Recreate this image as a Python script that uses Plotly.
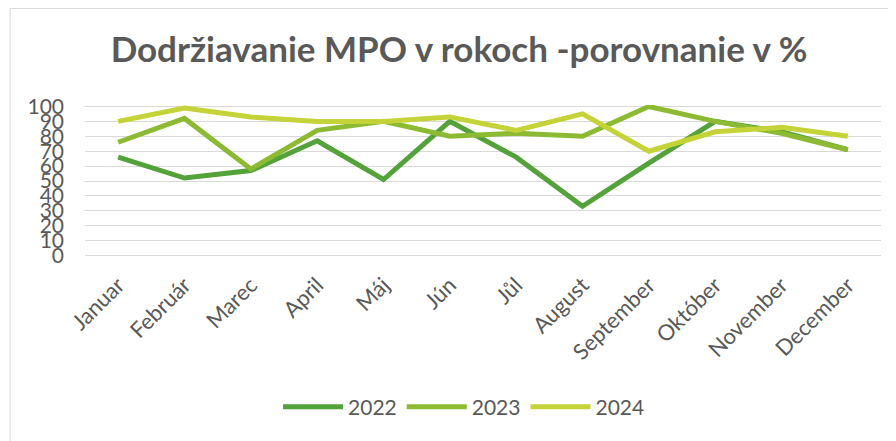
import plotly.graph_objects as go

months = ["Januar", "Február", "Marec", "April", "Máj", "Jún", "Jůl", "August",
          "September", "Október", "November", "December"]
y2022 = [66, 52, 57, 77, 51, 90, 66, 33, 62, 90, 83, 71]
y2023 = [76, 92, 58, 84, 90, 80, 82, 80, 100, 90, 82, 71]
y2024 = [90, 99, 93, 90, 90, 93, 84, 95, 70, 83, 86, 80]
series_names = ["2022", "2023", "2024"]
colors = ["#53A23A", "#8CBB33", "#C4D337"]
y_ticks = [0, 10, 20, 30, 40, 50, 60, 70, 80, 90, 100]

OFF = 8  # default page body margin
W, H = 896, 441
L, T = 84.5 - OFF, 104.5 - OFF
pw, ph = 797.0, 152.7
R, B = W - L - pw, H - T - ph

fig = go.Figure()
for name, vals, col in zip(series_names, [y2022, y2023, y2024], colors):
    fig.add_trace(go.Scatter(x=months, y=vals, name=name, mode="lines",
                             line=dict(color=col, width=5, shape="linear")))

def px2paper_x(px):
    return (px - OFF - L) / pw

def px2paper_y(py):
    return (H - B - (py - OFF)) / ph

fig.update_layout(
    width=W, height=H,
    margin=dict(l=L, r=R, t=T, b=B, autoexpand=False),
    paper_bgcolor="white", plot_bgcolor="white",
    font=dict(family="Lato, Open Sans, sans-serif", color="#595959"),
    title=dict(text="<b>Dodržiavanie MPO v rokoch -porovnanie v %</b>",
               x=px2paper_x(459), xref="paper", xanchor="center",
               y=1 - (50 - OFF) / H, yref="container", yanchor="middle",
               font=dict(size=35, color="#595959", family="Lato, sans-serif")),
    xaxis=dict(type="category", range=[-0.5, 11.5], showgrid=False,
               showline=False, zeroline=False, ticks="", tickangle=-45,
               tickfont=dict(size=22, color="#595959"), ticklabelstandoff=10),
    yaxis=dict(range=[-1, 101], tickvals=y_ticks, showgrid=True,
               gridcolor="#D9D9D9", gridwidth=1.3, zeroline=False, showline=False,
               tickfont=dict(size=21, color="#595959"), ticklabelstandoff=20),
    legend=dict(orientation="h", x=px2paper_x(464), xanchor="center",
                y=px2paper_y(408), yanchor="middle",
                font=dict(size=21, color="#595959"), itemwidth=60,
                bgcolor="rgba(0,0,0,0)"),
    shapes=[dict(type="rect", xref="paper", yref="paper",
                 x0=px2paper_x(9.5), x1=px2paper_x(920),
                 y0=px2paper_y(7.5), y1=px2paper_y(470),
                 line=dict(color="#D9D9D9", width=1), fillcolor="rgba(0,0,0,0)",
                 layer="below")],
)

fig.write_html("out.html")
